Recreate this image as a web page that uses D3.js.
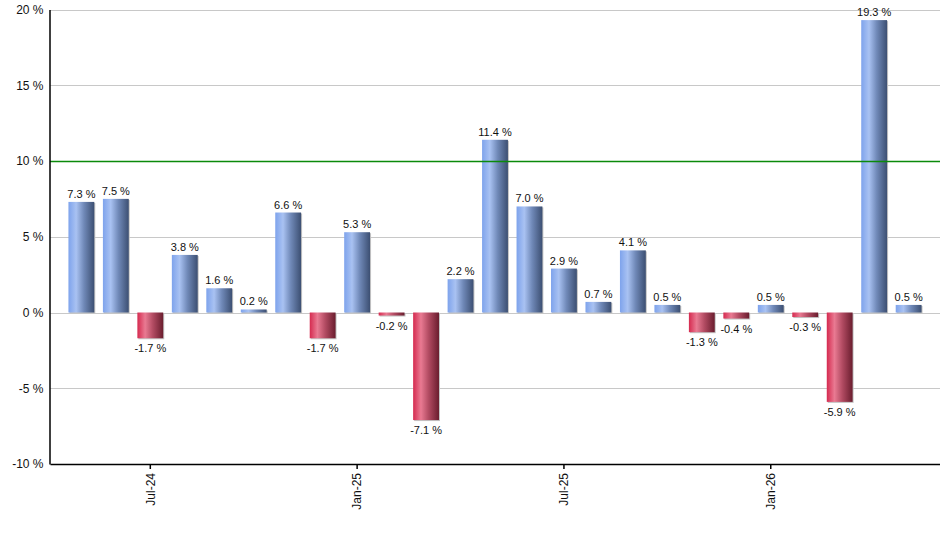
<!DOCTYPE html>
<html>
<head>
<meta charset="utf-8">
<script src="https://cdn.jsdelivr.net/npm/d3@7"></script>
<style>
  body { margin: 0; background: #fff; }
  svg { font-family: "Liberation Sans", Arial, sans-serif; }
</style>
</head>
<body>
<div id="chart"></div>
<script>
// monthly returns, May-24 .. May-26
var months = ["May-24","Jun-24","Jul-24","Aug-24","Sep-24","Oct-24","Nov-24","Dec-24",
  "Jan-25","Feb-25","Mar-25","Apr-25","May-25","Jun-25","Jul-25","Aug-25","Sep-25",
  "Oct-25","Nov-25","Dec-25","Jan-26","Feb-26","Mar-26","Apr-26","May-26"];
var values = [7.3, 7.5, -1.7, 3.8, 1.6, 0.2, 6.6, -1.7, 5.3, -0.2, -7.1, 2.2, 11.4,
  7.0, 2.9, 0.7, 4.1, 0.5, -1.3, -0.4, 0.5, -0.3, -5.9, 19.3, 0.5];
var tickMonths = ["Jul-24", "Jan-25", "Jul-25", "Jan-26"];
var yTicks = [-10, -5, 0, 5, 10, 15, 20];
var targetLine = 10;

var width = 940, height = 550;

var svg = d3.select("#chart")
  .append("svg")
  .attr("width", width)
  .attr("height", height);

var x = d3.scaleBand()
  .domain(months)
  .range([50, 940])
  .paddingInner(0.25)
  .paddingOuter(0.535);

var y = d3.scaleLinear()
  .domain([-10, 20])
  .range([464, 9.5]);

// gradients for the bars
var defs = svg.append("defs");
function grad(id, stops) {
  var g = defs.append("linearGradient").attr("id", id)
    .attr("x1", "0%").attr("x2", "100%").attr("y1", "0%").attr("y2", "0%");
  stops.forEach(function(s) {
    g.append("stop").attr("offset", s[0]).attr("stop-color", s[1]);
  });
}
grad("gPos", [["0%", "#7ea3ec"], ["30%", "#a9c2f2"], ["60%", "#7089b8"], ["100%", "#3c4f72"]]);
grad("gNeg", [["0%", "#d52a4f"], ["30%", "#e97a92"], ["60%", "#b24b62"], ["100%", "#6a1d2e"]]);

// grid lines
svg.append("g")
  .selectAll("line")
  .data(yTicks.filter(function(d) { return d != -10 && d != targetLine; }))
  .enter()
  .append("line")
  .attr("x1", 50).attr("x2", 940)
  .attr("y1", function(d) { return Math.round(y(d)) + 0.5; })
  .attr("y2", function(d) { return Math.round(y(d)) + 0.5; })
  .style("stroke", "#c8c8c8")
  .style("stroke-width", 1);

// bar shadows
svg.append("g")
  .selectAll("rect")
  .data(values)
  .enter()
  .append("rect")
  .attr("x", function(d, i) { return x(months[i]) + 1; })
  .attr("y", function(d) { return Math.min(y(d), y(0)) + 1; })
  .attr("width", x.bandwidth())
  .attr("height", function(d) { return Math.abs(y(d) - y(0)); })
  .style("fill", "#c4c4c4");

// bars
svg.append("g")
  .selectAll("rect")
  .data(values)
  .enter()
  .append("rect")
  .attr("x", function(d, i) { return x(months[i]); })
  .attr("y", function(d) { return Math.min(y(d), y(0)); })
  .attr("width", x.bandwidth())
  .attr("height", function(d) { return Math.abs(y(d) - y(0)); })
  .style("fill", function(d) { return d >= 0 ? "url(#gPos)" : "url(#gNeg)"; });

// target line
svg.append("line")
  .attr("x1", 50).attr("x2", 940)
  .attr("y1", Math.round(y(targetLine)) + 0.5)
  .attr("y2", Math.round(y(targetLine)) + 0.5)
  .attr("stroke", "#0a8a0a")
  .attr("stroke-width", 1.5);

// value labels
svg.append("g")
  .selectAll("text")
  .data(values)
  .enter()
  .append("text")
  .attr("x", function(d, i) { return x(months[i]) + x.bandwidth() / 2; })
  .attr("y", function(d) { return d >= 0 ? y(d) - 4 : y(d) + 14; })
  .attr("text-anchor", "middle")
  .style("font-size", "11px")
  .style("fill", "#111")
  .text(function(d) { return d.toFixed(1) + " %"; });

// y axis
var yAxis = svg.append("g")
  .attr("transform", "translate(49.5,0)")
  .call(d3.axisLeft(y).tickValues(yTicks).tickSize(0).tickPadding(6)
    .tickFormat(function(d) { return d + " %"; }));
yAxis.select(".domain").style("stroke", "#000").style("stroke-width", 1.5);
yAxis.selectAll("text").style("font-size", "12px").style("fill", "#111")
  .attr("font-family", "Liberation Sans, Arial, sans-serif");

// x axis
var xAxis = svg.append("g")
  .attr("transform", "translate(0,464)")
  .call(d3.axisBottom(x).tickValues(tickMonths).tickSize(5).tickSizeOuter(0));
xAxis.select(".domain").style("stroke", "#000").style("stroke-width", 1.5);
xAxis.selectAll(".tick line").style("stroke", "#000").style("stroke-width", 1.5);
xAxis.selectAll("text")
  .attr("transform", "rotate(-90)")
  .attr("text-anchor", "end")
  .attr("x", -9)
  .attr("y", 0)
  .attr("dy", "0.35em")
  .attr("font-family", "Liberation Sans, Arial, sans-serif")
  .style("font-size", "12px")
  .style("fill", "#111");
</script>
</body>
</html>
